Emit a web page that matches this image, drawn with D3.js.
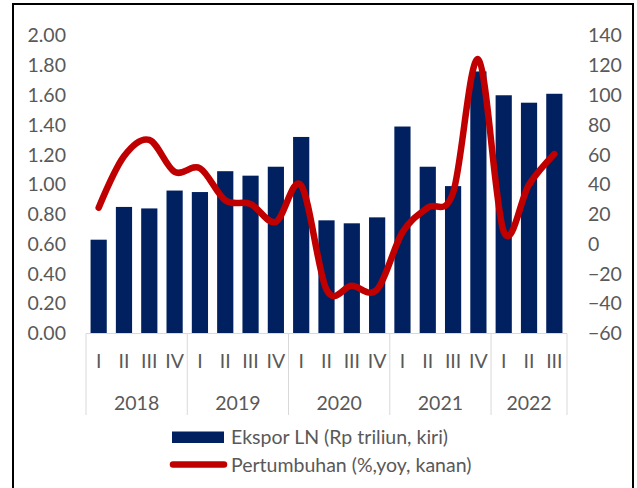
<!DOCTYPE html>
<html lang="id">
<head>
    <meta charset="UTF-8">
    <title>Ekspor LN</title>
    <script src="https://d3js.org/d3.v7.min.js"></script>
    <style>
        body { margin: 0; background: #fff; }
        svg text { font-family: Lato, "Open Sans", sans-serif; fill: #595959; }
    </style>
</head>
<body>
    <svg width="637" height="488"></svg>
    <script>
        // data
        const years = ['2018', '2019', '2020', '2021', '2022'];
        const quarters = ['I', 'II', 'III', 'IV', 'I', 'II', 'III', 'IV', 'I', 'II', 'III', 'IV',
                          'I', 'II', 'III', 'IV', 'I', 'II', 'III'];
        const yearOf = ['2018', '2018', '2018', '2018', '2019', '2019', '2019', '2019', '2020', '2020', '2020', '2020',
                        '2021', '2021', '2021', '2021', '2022', '2022', '2022'];
        const ekspor = [0.63, 0.85, 0.84, 0.96, 0.95, 1.09, 1.06, 1.12, 1.32, 0.76, 0.74, 0.78,
                        1.39, 1.12, 0.99, 1.76, 1.60, 1.55, 1.61];
        const pertumbuhan = [24.5, 59, 70, 48.5, 51, 29.5, 27, 15, 39.5, -30.5, -28, -30.5,
                             8, 24.5, 34.5, 124, 8.5, 40, 60.5];
        const leftTicks = [0, 0.2, 0.4, 0.6, 0.8, 1.0, 1.2, 1.4, 1.6, 1.8, 2.0];
        const rightTicks = [-60, -40, -20, 0, 20, 40, 60, 80, 100, 120, 140];
        const legendLabels = ['Ekspor LN (Rp triliun, kiri)', 'Pertumbuhan (%,yoy, kanan)'];

        const keys = quarters.map((q, i) => yearOf[i] + '-' + q);
        const fs = '19.5px';

        const svg = d3.select('svg');

        // frame
        svg.append('rect')
            .attr('x', 13).attr('y', 4)
            .attr('width', 620).attr('height', 520)
            .attr('fill', '#fff')
            .attr('stroke', '#000')
            .attr('stroke-width', 2);

        const x = d3.scaleBand()
                    .domain(keys)
                    .range([86, 567])
                    .paddingInner(0.36)
                    .paddingOuter(0.18);
        const yLeft = d3.scaleLinear().domain([0, 2]).range([333.5, 35.7]);
        const yRight = d3.scaleLinear().domain([-60, 140]).range([333.5, 35.7]);

        // bars
        svg.selectAll('.bar')
            .data(ekspor)
            .enter()
            .append('rect')
            .attr('class', 'bar')
            .attr('x', (d, i) => x(keys[i]))
            .attr('y', d => yLeft(d))
            .attr('width', x.bandwidth())
            .attr('height', d => yLeft(0) - yLeft(d))
            .attr('fill', '#002060');

        // baseline
        svg.append('line')
            .attr('x1', 86).attr('x2', 567)
            .attr('y1', yLeft(0)).attr('y2', yLeft(0))
            .attr('stroke', '#d9d9d9').attr('stroke-width', 1);

        // left axis
        const leftAxis = d3.axisLeft(yLeft).tickValues(leftTicks).tickSize(0).tickPadding(20)
                           .tickFormat(d3.format('.2f'));
        const gl = svg.append('g').attr('transform', 'translate(86,0)').call(leftAxis);
        gl.select('.domain').remove();
        gl.selectAll('text').style('font-size', fs).attr('fill', '#595959');

        // right axis
        const rightAxis = d3.axisRight(yRight).tickValues(rightTicks).tickSize(0).tickPadding(21);
        const gr = svg.append('g').attr('transform', 'translate(567,0)').call(rightAxis);
        gr.select('.domain').remove();
        gr.selectAll('text').style('font-size', fs).attr('fill', '#595959');

        // category axis: quarters
        const qAxis = d3.axisBottom(x).tickSize(0).tickPadding(21).tickFormat((d, i) => quarters[i]);
        const gq = svg.append('g').attr('transform', 'translate(0,' + yLeft(0) + ')').call(qAxis);
        gq.select('.domain').remove();
        gq.selectAll('text').style('font-size', fs).attr('fill', '#595959');

        // category axis: years and separators
        const step = x.step();
        const groups = years.map(yr => {
            const idx = yearOf.map((v, i) => v === yr ? i : -1).filter(i => i >= 0);
            const x0 = x(keys[idx[0]]) - step * x.paddingInner() / 2;
            const x1 = x(keys[idx[idx.length - 1]]) + x.bandwidth() + step * x.paddingInner() / 2;
            return { year: yr, x0: x0, x1: x1 };
        });
        const seps = [groups[0].x0].concat(groups.map(g => g.x1));
        svg.selectAll('.sep')
            .data(seps)
            .enter()
            .append('line')
            .attr('class', 'sep')
            .attr('x1', d => d).attr('x2', d => d)
            .attr('y1', yLeft(0)).attr('y2', 415)
            .attr('stroke', '#d9d9d9').attr('stroke-width', 1);
        svg.selectAll('.yr')
            .data(groups)
            .enter()
            .append('text')
            .attr('class', 'yr')
            .attr('x', d => (d.x0 + d.x1) / 2)
            .attr('y', 403)
            .attr('dy', '0.35em')
            .attr('text-anchor', 'middle')
            .style('font-size', fs)
            .text(d => d.year);

        // line
        const line = d3.line()
                       .x((d, i) => x(keys[i]) + x.bandwidth() / 2)
                       .y(d => yRight(d))
                       .curve(d3.curveCatmullRom.alpha(0));
        svg.append('path')
            .attr('d', line(pertumbuhan))
            .attr('fill', 'none')
            .attr('stroke', '#c00000')
            .attr('stroke-width', 6.5)
            .attr('stroke-linecap', 'round')
            .attr('stroke-linejoin', 'round');

        // legend
        svg.append('rect')
            .attr('x', 172).attr('y', 431.5)
            .attr('width', 52).attr('height', 11.5)
            .attr('fill', '#002060');
        svg.append('line')
            .attr('x1', 173).attr('x2', 224)
            .attr('y1', 464.5).attr('y2', 464.5)
            .attr('stroke', '#c00000')
            .attr('stroke-width', 6.5)
            .attr('stroke-linecap', 'round');
        svg.selectAll('.leg')
            .data(legendLabels)
            .enter()
            .append('text')
            .attr('class', 'leg')
            .attr('x', 231)
            .attr('y', (d, i) => 437.5 + i * 27.5)
            .attr('dy', '0.35em')
            .style('font-size', fs)
            .text(d => d);
    </script>
</body>
</html>
